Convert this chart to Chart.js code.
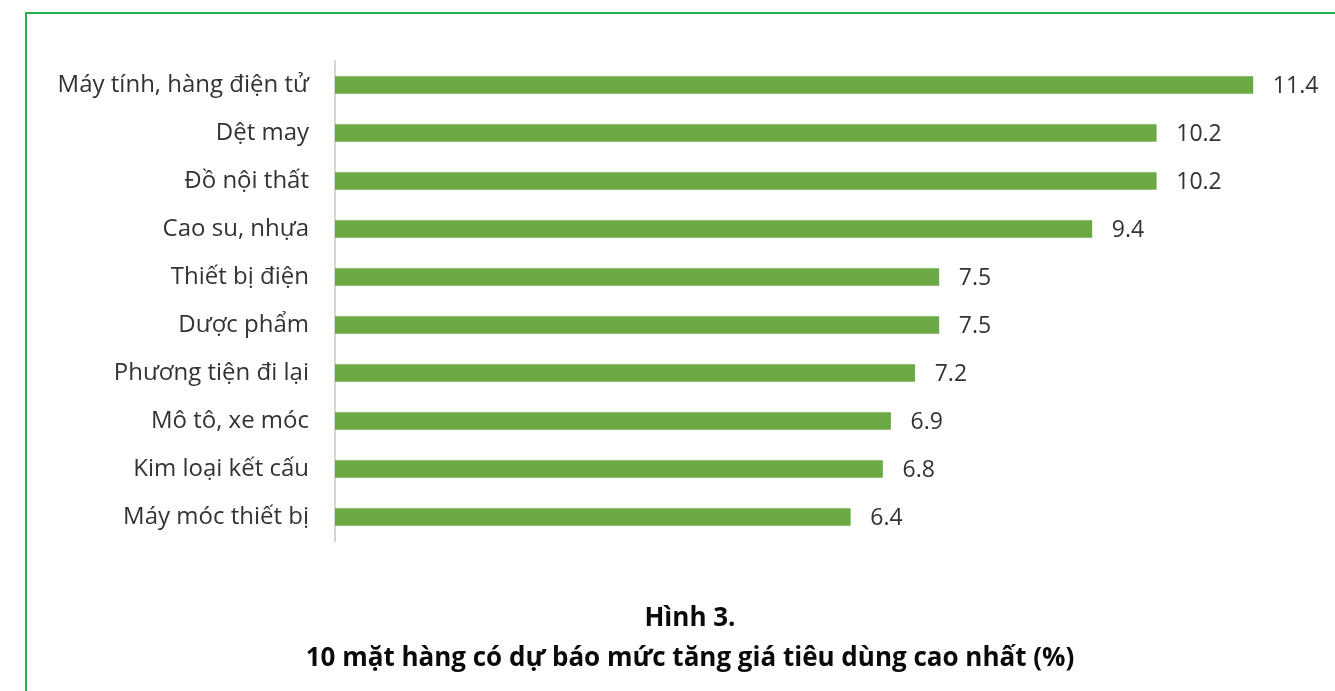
<!DOCTYPE html>
<html>
<head>
<meta charset="utf-8">
<script src="https://cdn.jsdelivr.net/npm/chart.js@4"></script>
<style>
  html, body { margin: 0; padding: 0; background: #fff; }
  #frame {
    position: absolute; left: 25px; top: 12px;
    width: 1330px; height: 700px;
    border: 2px solid #25b04e;
  }
  #wrap { position: absolute; left: 0; top: 0; width: 1335px; height: 691px; }
</style>
</head>
<body>
<div id="frame"></div>
<div id="wrap"><canvas id="myChart" width="1335" height="691"></canvas></div>
<script>
const categories = [
  'Máy tính, hàng điện tử',
  'Dệt may',
  'Đồ nội thất',
  'Cao su, nhựa',
  'Thiết bị điện',
  'Dược phẩm',
  'Phương tiện đi lại',
  'Mô tô, xe móc',
  'Kim loại kết cấu',
  'Máy móc thiết bị'
];
const values = [11.4, 10.2, 10.2, 9.4, 7.5, 7.5, 7.2, 6.9, 6.8, 6.4];
const titleLines = ['Hình 3.', '10 mặt hàng có dự báo mức tăng giá tiêu dùng cao nhất (%)'];

// value labels to the right of each bar
const valueLabels = {
  id: 'valueLabels',
  afterDatasetsDraw(chart) {
    const ctx = chart.ctx;
    const meta = chart.getDatasetMeta(0);
    ctx.save();
    ctx.font = '23px "Open Sans"';
    ctx.fillStyle = '#333';
    ctx.textAlign = 'left';
    ctx.textBaseline = 'middle';
    meta.data.forEach((bar, i) => {
      ctx.fillText(values[i].toFixed(1), bar.x + 20, bar.y + 1);
    });
    ctx.restore();
  }
};

new Chart(document.getElementById('myChart'), {
  type: 'bar',
  data: {
    labels: categories,
    datasets: [{
      data: values,
      backgroundColor: '#6aa943',
      barThickness: 17,
      borderWidth: 0
    }]
  },
  options: {
    indexAxis: 'y',
    responsive: false,
    animation: false,
    layout: { padding: { left: 45, right: 0, top: 61, bottom: 12 } },
    scales: {
      x: {
        display: false,
        min: 0,
        max: 12.42
      },
      y: {
        afterFit(scale) { scale.width = 290; },
        grid: { display: false, drawTicks: false },
        border: { display: true, color: '#d4d4d4', width: 2 },
        ticks: {
          padding: 26,
          color: '#333',
          font: { family: 'Open Sans', size: 24 }
        }
      }
    },
    plugins: {
      legend: { display: false },
      tooltip: { enabled: false },
      title: {
        display: true,
        position: 'bottom',
        text: titleLines,
        color: '#0a0a0a',
        font: { family: 'Open Sans', size: 26, weight: 'bold', lineHeight: 40 / 26 },
        padding: { top: 58, bottom: 0 }
      }
    }
  },
  plugins: [valueLabels]
});
</script>
</body>
</html>
